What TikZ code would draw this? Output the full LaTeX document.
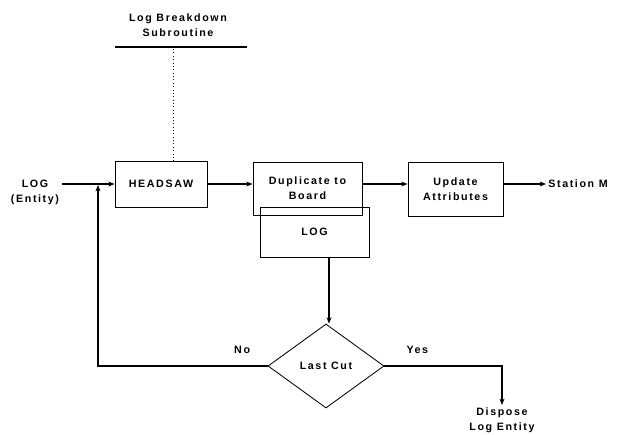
\documentclass[tikz,border=0pt]{standalone}
\usepackage{fontspec}
\setmainfont{Liberation Sans}[LetterSpace=15]
\usetikzlibrary{arrows.meta,positioning,shapes.geometric}

\begin{document}
\begin{tikzpicture}[
      x=0.025cm, y=-0.025cm, >={Stealth[length=4.5pt,width=3.5pt]},
      font=\fontsize{7.6}{10.8}\selectfont\bfseries,
      box/.style={draw, semithick, align=center, inner sep=1pt},
      decision/.style={draw, semithick, diamond, align=center, inner sep=0pt,
                       minimum width=2.9cm, minimum height=2.1cm, aspect=1.38},
      lbl/.style={align=center, inner sep=1.5pt},
      flow/.style={->, thick}
    ]
    \useasboundingbox (0,0) rectangle (620,435);

    % subroutine bar
    \node[lbl] (subroutine) at (178,25) {Log Breakdown\\Subroutine};
    \coordinate (barleft)  at (115,47);
    \coordinate (barright) at (247,47);
    \coordinate (tap)      at (173,49);
    \draw[line width=2pt] (barleft) -- (barright);

    % main line
    \node[lbl] (entity) at (35,192) {LOG\\(Entity)};
    \coordinate (logout) at (62,184);
    \coordinate (merge)  at (98,185);
    \node[box, minimum width=2.3cm, minimum height=1.15cm] (headsaw) at (161,184) {HEADSAW};
    \node[box, minimum width=2.725cm, minimum height=1.325cm] (duplicate) at (307.5,188.5) {Duplicate to\\Board};
    \node[box, minimum width=2.725cm, minimum height=1.25cm] (logbox) at (314.5,232) {LOG};
    \node[box, minimum width=2.375cm, minimum height=1.35cm] (update) at (455.5,189) {Update\\Attributes};
    \node[lbl, anchor=west] (station) at (546,184) {Station M};

    \node[decision] (lastcut) at (326,366) {Last Cut};
    \node[lbl, anchor=north] (dispose) at (502,405) {Dispose\\Log Entity};

    \draw[dotted] (tap) -- (tap |- headsaw.north);
    \draw[flow] (logout) -- (logout -| headsaw.west);
    \draw[flow] (headsaw) -- (headsaw -| duplicate.west);
    \draw[flow] (headsaw -| duplicate.east) -- (headsaw -| update.west);
    \draw[flow] (headsaw -| update.east) -- (station);
    \draw[flow] (logbox.south -| 329,0) -- (lastcut.north -| 329,0);

    % decision branches
    \draw[flow] (lastcut.west) -| node[pos=0.075, above=5pt] {No} (merge);
    \draw[flow] (lastcut.east) -| node[pos=0.14, above=5pt] {Yes} (dispose.north);
  \end{tikzpicture}
\end{document}
